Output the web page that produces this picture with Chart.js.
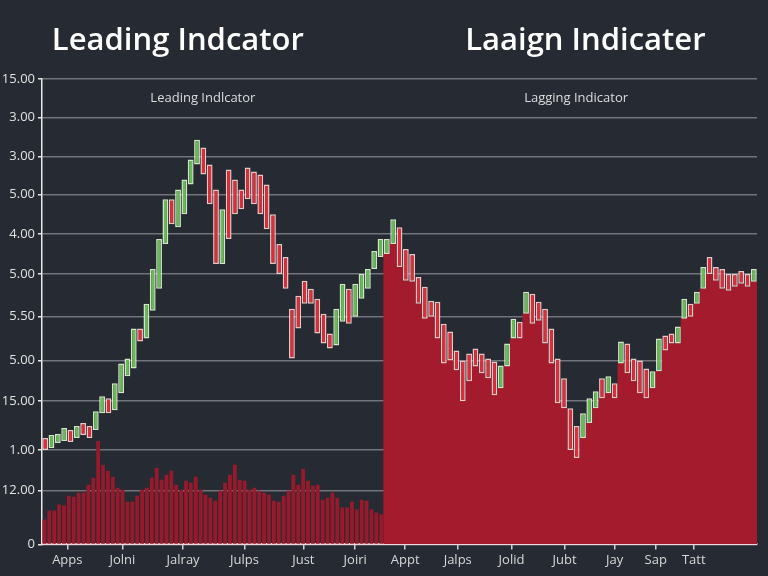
<!DOCTYPE html>
<html>
<head>
<meta charset="utf-8">
<script src="https://cdn.jsdelivr.net/npm/chart.js@4.4.1/dist/chart.umd.min.js"></script>
<style>
  html, body { margin: 0; padding: 0; background: #262a32; }
  #wrap { width: 768px; height: 576px; }
</style>
</head>
<body>
<div id="wrap"><canvas id="myChart" width="768" height="576"></canvas></div>
<script>
// leading half: candles + volume bars
const leadOpen = [10.7, 9.7, 10.2, 10.4, 11.5, 10.7, 12.2, 11.9, 11.5, 13.2,
  14.7, 13.5, 15.2, 16.9, 17.7, 21.7, 20.7, 23.5, 25.7, 30.2,
  34.7, 31.9, 33.2, 36.2, 38.2, 39.9, 38.2, 35.7, 28.2, 37.7,
  36.7, 35.7, 37.9, 37.5, 37.2, 36.2, 33.2, 30.2, 28.9, 23.7,
  25.0, 26.5, 25.7, 24.7, 23.2, 21.2, 20.0, 22.4, 25.7, 22.9,
  24.7, 25.7, 27.7, 28.9]
const leadClose = [9.5, 11.0, 11.1, 11.7, 10.3, 11.9, 11.0, 10.7, 13.4, 14.9,
  13.2, 16.2, 18.2, 18.7, 21.7, 20.4, 24.2, 27.7, 30.7, 34.7,
  32.2, 35.7, 36.7, 38.7, 40.7, 37.2, 34.2, 28.2, 33.7, 30.7,
  33.2, 33.7, 34.7, 34.2, 33.2, 31.7, 28.2, 27.2, 25.7, 18.7,
  21.7, 24.2, 24.2, 21.2, 20.2, 19.7, 23.7, 26.2, 22.2, 26.2,
  27.2, 27.7, 29.5, 30.7]
// lagging half: candles sitting on a filled area
const lagOpen = [29.2, 30.2, 31.9, 29.7, 29.2, 26.9, 25.9, 24.5, 24.4, 22.2,
  21.4, 19.5, 18.5, 19.2, 19.7, 19.2, 18.7, 18.4, 15.7, 17.9,
  20.7, 22.4, 23.2, 25.2, 24.4, 23.7, 21.7, 18.7, 16.7, 13.7,
  11.9, 10.7, 12.2, 13.7, 16.7, 15.2, 16.2, 18.2, 20.2, 18.7,
  18.5, 17.7, 15.7, 17.4, 21.0, 21.2, 20.2, 22.7, 24.2, 24.2,
  25.7, 28.9, 27.9, 27.7, 27.2, 27.2, 27.5, 27.2, 26.4]
const lagClose = [30.7, 32.7, 27.9, 26.5, 26.4, 24.2, 22.7, 22.9, 20.7, 18.2,
  18.5, 17.5, 14.4, 16.4, 17.9, 17.2, 16.7, 15.0, 18.0, 20.2,
  22.7, 20.7, 25.4, 22.2, 22.5, 20.2, 18.2, 14.2, 13.7, 9.5,
  8.7, 13.2, 14.7, 15.4, 14.7, 16.9, 14.7, 20.4, 17.2, 16.4,
  15.2, 14.7, 17.4, 20.7, 19.5, 20.2, 21.9, 24.7, 22.9, 25.4,
  27.9, 27.2, 26.5, 25.7, 25.5, 25.9, 26.2, 25.9, 27.7]
const volume = [2.5, 3.4, 3.4, 4.0, 3.9, 4.9, 4.8, 5.2, 5.2, 6.0,
  6.7, 10.4, 8.0, 7.4, 6.8, 5.7, 5.5, 4.3, 4.3, 4.9,
  5.5, 5.7, 6.7, 7.7, 6.5, 7.0, 7.4, 6.0, 5.5, 6.4,
  6.2, 6.8, 5.5, 5.0, 4.7, 4.4, 5.4, 6.2, 7.0, 8.0,
  6.5, 6.4, 5.5, 5.7, 5.4, 5.2, 5.0, 4.4, 4.3, 4.9,
  5.4, 7.0, 6.0, 7.6, 6.4, 5.9, 6.0, 4.5, 4.7, 5.2,
  4.7, 3.7, 3.7, 4.3, 3.5, 4.5, 4.4, 3.5, 3.2, 3.0]

const xTickAt = [3.5, 12.2, 21.8, 31.5, 40.8, 49.0, 56.9, 65.2, 73.7, 82.1, 90.0, 96.5, 102.5]
const xLabels = ['Apps', 'Jolni', 'Jalray', 'Julps', 'Just', 'Joiri', 'Appt', 'Jalps', 'Jolid', 'Jubt', 'Jay', 'Sap', 'Tatt']
const yTickAt = [0, 5.4, 9.5, 14.4, 18.5, 22.9, 27.2, 31.2, 35.2, 39.0, 42.9, 46.8]
const yLabels = ['0', '12.00', '1.00', '15.00', '5.00', '5.50', '5.00', '4.00', '5.00', '3.00', '3.00', '15.00']

const titles = ['Leading Indcator', 'Laaign Indicater']
const subTitles = ['Leading Indlcator', 'Lagging Indicator']

const opens = leadOpen.concat(lagOpen)
const closes = leadClose.concat(lagClose)
const nCandles = opens.length
const nLead = leadOpen.length

const candleData = opens.map((o, i) => ({ x: i, y: [o, closes[i]] }))
const fillData = lagOpen.map((o, j) => ({ x: nLead + j, y: Math.min(o, lagClose[j]) }))
const volumeData = volume.map((v, i) => ({ x: i, y: v }))

const isUp = i => closes[i] >= opens[i]

const headerPlugin = {
  id: 'header',
  beforeDraw(chart) {
    const c = chart.ctx
    c.save()
    c.fillStyle = '#262a32'
    c.fillRect(0, 0, chart.width, chart.height)
    c.restore()
  },
  afterDraw(chart) {
    const c = chart.ctx
    const a = chart.chartArea
    const w = a.right - a.left
    c.save()
    c.textAlign = 'center'
    c.textBaseline = 'middle'
    c.fillStyle = '#ffffff'
    c.font = '600 31px "Open Sans"'
    c.fillText(titles[0], a.left + w * 0.19, 41)
    c.fillText(titles[1], a.left + w * 0.76, 41)
    c.fillStyle = '#dcdcdc'
    c.font = '13px "Open Sans"'
    c.fillText(subTitles[0], a.left + w * 0.225, 98)
    c.fillText(subTitles[1], a.left + w * 0.747, 98)
    c.restore()
  }
}

const config = {
  type: 'bar',
  data: {
    datasets: [
      {
        label: 'candles',
        data: candleData,
        grouped: false,
        order: 0,
        barPercentage: 0.92,
        categoryPercentage: 1,
        backgroundColor: ctx => isUp(ctx.dataIndex) ? 'rgb(104,186,88)' : 'rgb(222,44,58)',
        borderColor: ctx => isUp(ctx.dataIndex) ? 'rgba(228,250,215,0.9)' : 'rgba(255,215,212,0.9)',
        borderWidth: 1.5,
        borderSkipped: false
      },
      {
        label: 'lagging',
        data: fillData,
        grouped: false,
        order: 1,
        barPercentage: 1,
        categoryPercentage: 1,
        backgroundColor: 'rgb(165,27,46)',
        borderWidth: 0
      },
      {
        label: 'volume',
        data: volumeData,
        xAxisID: 'xv',
        grouped: false,
        order: 2,
        barPercentage: 0.78,
        categoryPercentage: 1,
        backgroundColor: 'rgb(150,26,44)',
        borderWidth: 0
      }
    ]
  },
  options: {
    responsive: false,
    animation: false,
    layout: { padding: { top: 79, right: 11, bottom: 5, left: 0 } },
    plugins: {
      legend: { display: false },
      tooltip: { enabled: false }
    },
    scales: {
      x: {
        type: 'linear',
        min: -0.5,
        max: nCandles - 0.5,
        offset: false,
        afterBuildTicks: s => { s.ticks = xTickAt.map(v => ({ value: v })) },
        ticks: {
          autoSkip: false,
          maxRotation: 0,
          padding: 3,
          color: '#d8d8d8',
          font: { family: '"Open Sans"', size: 13 },
          callback: (v, i) => xLabels[i]
        },
        grid: { drawOnChartArea: false, offset: false, tickLength: 5, color: '#d8d0d0', lineWidth: 1.5 },
        border: { display: true, color: 'rgba(255,225,225,0.9)', width: 2 }
      },
      xv: {
        type: 'linear',
        display: false,
        offset: false,
        min: -0.5,
        max: -0.5 + volume.length * nCandles / nLead
      },
      y: {
        min: 0,
        max: 46.8,
        afterBuildTicks: s => { s.ticks = yTickAt.map(v => ({ value: v })) },
        afterFit: s => { s.width = 42 },
        ticks: {
          padding: 3,
          color: '#e2e2e2',
          font: { family: '"Open Sans"', size: 13 },
          callback: (v, i) => yLabels[i]
        },
        grid: { color: 'rgba(190,190,195,0.5)', lineWidth: 1.5, tickLength: 4, tickColor: '#e6e6e6' },
        border: { display: true, color: '#e8e8e8', width: 1.5 }
      }
    }
  },
  plugins: [headerPlugin]
}

const myChart = new Chart(document.getElementById('myChart'), config)
</script>
</body>
</html>
